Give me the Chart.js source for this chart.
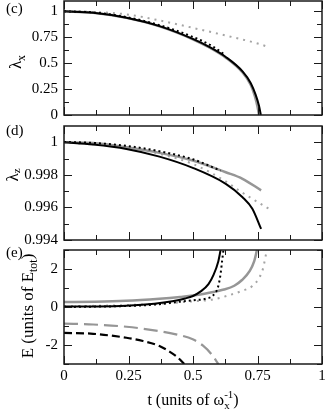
<!DOCTYPE html>
<html>
<head>
<meta charset="utf-8">
<script src="https://cdn.jsdelivr.net/npm/chart.js@4.4.1/dist/chart.umd.min.js"></script>
<style>
  html, body { margin: 0; background: #fff; }
  #wrap { position: relative; width: 327px; height: 411px; }
  #wrap canvas { position: absolute; left: 0; top: 0; }
</style>
</head>
<body>
<div id="wrap">
  <canvas id="pc" width="327" height="411"></canvas>
  <canvas id="pd" width="327" height="411"></canvas>
  <canvas id="pe" width="327" height="411"></canvas>
</div>
<script>
const SERIF = '"Liberation Serif", "Times New Roman", serif';
const BLACK = '#000';
const GREY = 'rgb(150,150,150)';
const LGREY = 'rgb(165,165,165)';

// time axis, shared by the three panels
const xTicks = [0, 0.25, 0.5, 0.75, 1];
const xMinor = [0.125, 0.375, 0.625, 0.875];

// (c) lambda_x
const cTicks = [0, 0.25, 0.5, 0.75, 1];
const cMinor = [0.125, 0.375, 0.625, 0.875];
const cBlackT = [0, 0.113, 0.242, 0.37, 0.499, 0.563, 0.627, 0.692, 0.724, 0.743, 0.756, 0.763];
const cBlack  = [1, 0.987, 0.939, 0.858, 0.735, 0.657, 0.56, 0.421, 0.307, 0.194, 0.087, 0];
const cGreyT  = [0, 0.113, 0.242, 0.37, 0.499, 0.563, 0.627, 0.692, 0.724, 0.74, 0.75, 0.756];
const cGrey   = [1, 0.986, 0.937, 0.855, 0.731, 0.652, 0.553, 0.41, 0.29, 0.18, 0.08, 0];
const cBlackDotT = [0, 0.113, 0.242, 0.37, 0.499, 0.576, 0.619];
const cBlackDot  = [1, 0.99, 0.945, 0.867, 0.754, 0.663, 0.589];
const cGreyDotT  = [0, 0.113, 0.242, 0.37, 0.499, 0.627, 0.756, 0.794];
const cGreyDot   = [1, 0.994, 0.971, 0.913, 0.841, 0.767, 0.686, 0.654];

// (d) lambda_z
const dTicks = [0.994, 0.996, 0.998, 1];
const dMinor = [0.995, 0.997, 0.999];
const dBlackT = [0, 0.113, 0.242, 0.37, 0.499, 0.627, 0.692, 0.73, 0.764];
const dBlack  = [1, 0.99986, 0.99959, 0.99912, 0.99843, 0.99745, 0.99663, 0.99592, 0.99468];
const dGreyT  = [0, 0.113, 0.242, 0.37, 0.499, 0.627, 0.692, 0.764];
const dGrey   = [1, 0.99996, 0.99969, 0.99935, 0.99888, 0.99816, 0.99776, 0.99705];
const dBlackDotT = [0, 0.113, 0.242, 0.37, 0.499, 0.607];
const dBlackDot  = [1.00002, 0.99996, 0.99978, 0.99945, 0.99896, 0.99826];
const dGreyDotT  = [0, 0.242, 0.37, 0.499, 0.627, 0.68, 0.74, 0.809];
const dGreyDot   = [1, 0.99969, 0.99929, 0.99867, 0.9976, 0.99702, 0.99643, 0.99578];

// (e) energies
const eTicks = [-2, 0, 2];
const eMinor = [-3, -1, 1, 3];
const eBlackT = [0, 0.12, 0.24, 0.35, 0.42, 0.47, 0.5, 0.53, 0.56, 0.58, 0.598, 0.607];
const eBlack  = [0.02, 0.03, 0.07, 0.17, 0.3, 0.45, 0.58, 0.82, 1.2, 1.7, 2.4, 3];
const eBlackDotT = [0, 0.12, 0.24, 0.37, 0.45, 0.5, 0.553, 0.579, 0.598, 0.607, 0.613, 0.618];
const eBlackDot  = [0, 0.02, 0.05, 0.15, 0.28, 0.35, 0.45, 0.62, 1.1, 1.75, 2.45, 3];
const eGreyT  = [0, 0.12, 0.24, 0.37, 0.45, 0.5, 0.563, 0.62, 0.66, 0.69, 0.72, 0.737, 0.748];
const eGrey   = [0.26, 0.28, 0.33, 0.44, 0.53, 0.6, 0.75, 0.92, 1.12, 1.42, 1.9, 2.4, 3];
const eGreyDotT = [0, 0.12, 0.24, 0.37, 0.5, 0.57, 0.63, 0.69, 0.73, 0.755, 0.772, 0.781, 0.787];
const eGreyDot  = [0.05, 0.06, 0.1, 0.17, 0.3, 0.38, 0.58, 0.85, 1.1, 1.5, 2.05, 2.65, 3];
const eGreyDashT = [0, 0.113, 0.242, 0.37, 0.434, 0.499, 0.54, 0.572, 0.598];
const eGreyDash  = [-0.87, -0.92, -1.04, -1.27, -1.44, -1.7, -2.05, -2.49, -3];
const eBlackDashT = [0, 0.113, 0.242, 0.306, 0.37, 0.409, 0.441, 0.466];
const eBlackDash  = [-1.36, -1.41, -1.62, -1.79, -2.05, -2.35, -2.66, -3];

const pts = (ts, vs) => ts.map((t, i) => ({ x: t, y: vs[i] }));

const solid = (ts, vs, color, w) => ({ data: pts(ts, vs), borderColor: color, borderWidth: w });
const dotted = (ts, vs, color, gap) => ({ data: pts(ts, vs), borderColor: color, borderWidth: 2, borderDash: [2, gap] });
const dashed = (ts, vs, color, dash) => ({ data: pts(ts, vs), borderColor: color, borderWidth: 2.2, borderDash: dash });

function drawRich(ctx, parts, cx, cy, rot) {
  ctx.save();
  ctx.translate(cx, cy);
  if (rot) ctx.rotate(-Math.PI / 2);
  ctx.textAlign = 'left';
  ctx.textBaseline = 'alphabetic';
  ctx.fillStyle = '#000';
  const widths = parts.map(p => {
    ctx.font = `${p.s}px ${SERIF}`;
    if (p.sub !== undefined) return Math.max(ctx.measureText(p.sub).width, ctx.measureText(p.sup).width);
    return ctx.measureText(p.t).width;
  });
  let x = -widths.reduce((a, b) => a + b, 0) / 2;
  parts.forEach((p, i) => {
    ctx.font = `${p.s}px ${SERIF}`;
    if (p.sub !== undefined) {
      ctx.fillText(p.sub, x, 4);
      ctx.fillText(p.sup, x, -7);
    } else {
      ctx.fillText(p.t, x, p.dy || 0);
    }
    x += widths[i];
  });
  ctx.restore();
}

function framePlugin(p) {
  return {
    id: 'frame',
    afterDraw(chart) {
      const { ctx, chartArea: a } = chart;
      const x = chart.scales.x, y = chart.scales.y;
      ctx.save();
      ctx.strokeStyle = '#1a1a1a';
      ctx.lineWidth = 1;
      ctx.beginPath();
      const xt = (v, len) => {
        const px = Math.round(x.getPixelForValue(v)) + 0.5;
        ctx.moveTo(px, a.bottom); ctx.lineTo(px, a.bottom - len);
        ctx.moveTo(px, a.top); ctx.lineTo(px, a.top + len);
      };
      const yt = (v, len) => {
        const py = Math.round(y.getPixelForValue(v)) + 0.5;
        ctx.moveTo(a.left, py); ctx.lineTo(a.left + len, py);
        ctx.moveTo(a.right, py); ctx.lineTo(a.right - len, py);
      };
      xTicks.forEach(v => xt(v, 8));
      xMinor.forEach(v => xt(v, 5));
      p.yTicks.forEach(v => yt(v, 8));
      p.yMinor.forEach(v => yt(v, 5));
      ctx.stroke();
      ctx.lineWidth = 1.5;
      ctx.strokeRect(a.left, a.top, a.right - a.left, a.bottom - a.top);
      ctx.fillStyle = '#000';
      ctx.font = `15px ${SERIF}`;
      ctx.fillText(p.tag, 6, p.tagY);
      drawRich(ctx, p.title, p.titleX, p.titleY, true);
      if (p.xTitle) drawRich(ctx, p.xTitle, 193, 405, false);
      ctx.restore();
    }
  };
}

function panel(id, datasets, p) {
  return new Chart(document.getElementById(id), {
    type: 'line',
    data: { datasets },
    options: {
      responsive: false,
      animation: false,
      events: [],
      layout: { padding: { left: 0, right: 5, top: p.top, bottom: p.bottom } },
      plugins: { legend: { display: false }, tooltip: { enabled: false } },
      elements: { point: { radius: 0 }, line: { cubicInterpolationMode: 'monotone', fill: false } },
      scales: {
        x: {
          type: 'linear', min: 0, max: 1, display: !!p.xTitle,
          grid: { display: false, drawTicks: false },
          border: { display: false },
          ticks: { color: '#000', font: { family: SERIF, size: 15 }, padding: 3, maxRotation: 0, autoSkip: false, callback: v => String(v) },
          afterBuildTicks: s => { s.ticks = xTicks.map(v => ({ value: v })); },
          afterFit: s => { s.height = p.xHeight || 0; s.paddingLeft = 0; s.paddingRight = 0; }
        },
        y: {
          type: 'linear', min: p.min, max: p.max,
          grid: { display: false, drawTicks: false },
          border: { display: false },
          ticks: { color: '#000', font: { family: SERIF, size: 15 }, padding: 6, autoSkip: false, callback: v => String(v) },
          afterBuildTicks: s => { s.ticks = p.yTicks.map(v => ({ value: v })); },
          afterFit: s => { s.width = 64; s.paddingTop = 0; s.paddingBottom = 0; }
        }
      }
    },
    plugins: [framePlugin(p)]
  });
}

panel('pc', [
  solid(cBlackT, cBlack, BLACK, 2),
  dotted(cBlackDotT, cBlackDot, BLACK, 3),
  solid(cGreyT, cGrey, GREY, 2.5),
  dotted(cGreyDotT, cGreyDot, LGREY, 5)
], {
  top: 1, bottom: 296, min: 0, max: 1.1, yTicks: cTicks, yMinor: cMinor,
  tag: '(c)', tagY: 13,
  title: [{ t: 'λ', s: 17 }, { t: 'x', s: 12, dy: 4 }], titleX: 21, titleY: 62
});

panel('pd', [
  solid(dBlackT, dBlack, BLACK, 2),
  dotted(dBlackDotT, dBlackDot, BLACK, 3),
  solid(dGreyT, dGrey, GREY, 2.5),
  dotted(dGreyDotT, dGreyDot, LGREY, 5)
], {
  top: 126, bottom: 171, min: 0.994, max: 1.001, yTicks: dTicks, yMinor: dMinor,
  tag: '(d)', tagY: 135,
  title: [{ t: 'λ', s: 17 }, { t: 'z', s: 11, dy: 2 }], titleX: 18, titleY: 175
});

panel('pe', [
  solid(eBlackT, eBlack, BLACK, 2),
  dotted(eBlackDotT, eBlackDot, BLACK, 3),
  dashed(eBlackDashT, eBlackDash, BLACK, [8, 4]),
  solid(eGreyT, eGrey, GREY, 2.5),
  dotted(eGreyDotT, eGreyDot, LGREY, 5),
  dashed(eGreyDashT, eGreyDash, GREY, [14, 6])
], {
  top: 250, bottom: 0, xHeight: 47, min: -3, max: 3, yTicks: eTicks, yMinor: eMinor,
  tag: '(e)', tagY: 257,
  title: [{ t: 'E (units of E', s: 17 }, { t: 'tot', s: 12, dy: 4 }, { t: ')', s: 17 }], titleX: 33, titleY: 306,
  xTitle: [{ t: 't (units of ω', s: 16 }, { sub: 'x', sup: '-1', s: 11 }, { t: ')', s: 16 }]
});
</script>
</body>
</html>
